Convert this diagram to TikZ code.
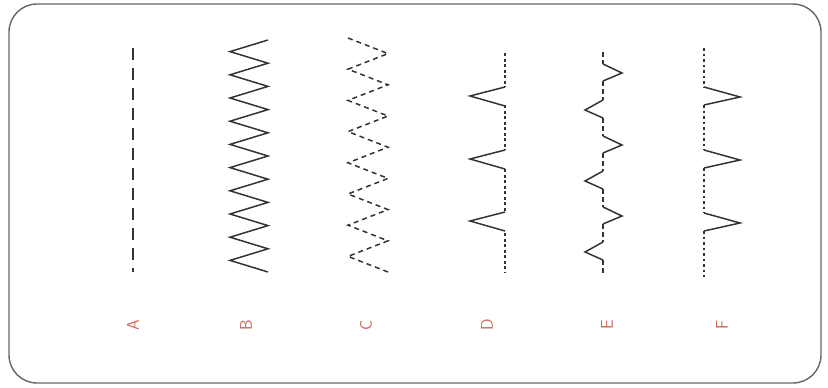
\documentclass[tikz,border=0pt]{standalone}
\usepackage{xcolor}
\usepackage{tikz}
\usetikzlibrary{positioning}
\definecolor{lblred}{RGB}{205,105,90}

\begin{document}
\begin{tikzpicture}[
      x=1pt, y=-1pt,
      font=\fontsize{17}{19}\selectfont\sffamily,
      frame/.style={draw=gray!80!black, line width=1.4pt, rounded corners=28pt},
      stitch/.style={draw=black!80, line width=1.5pt, line join=miter},
      seam/.style={stitch, line width=1.4pt, dash pattern=on 3pt off 2.5pt},
      lbl/.style={text=lblred, rotate=90, inner sep=1pt}
    ]
      \useasboundingbox (0,0) rectangle (828,388);
      \draw[frame] (9,4) rectangle (821,383);
      % A: straight stitch
      \draw[stitch, dash pattern=on 12pt off 8pt] (133,48) -- (133,272);
      % B: zigzag
      \draw[stitch] (268,40) \foreach \i in {1,...,20}{ -- ({249+19*cos(180*\i)},{40+11.6*\i}) };
      % C: dashed zigzag
      \draw[stitch, dash pattern=on 5pt off 4pt] (348,38) \foreach \i in {1,...,15}{ -- ({368-20*cos(180*\i)},{38+15.6*\i}) };
      % D: blind stitch
      \draw[seam] (505,53) -- (505,87) (505,105) -- (505,150) (505,169) -- (505,212) (505,233) -- (505,273);
      \foreach \y in {87,150,212}
        \draw[stitch] (505,\y) -- (470,\y+9) -- (505,\y+19);
      % E: alternating stitch
      \draw[seam, dash pattern=on 5pt off 3pt] (603,52) -- (603,64) (603,81) -- (603,100) (603,118) -- (603,136)
        (603,153) -- (603,171) (603,189) -- (603,207) (603,224) -- (603,242) (603,260) -- (603,273);
      \foreach \y in {64,136,207}
        \draw[stitch] (603,\y) -- (622,\y+9) -- (603,\y+17);
      \foreach \y in {100,171,242}
        \draw[stitch] (603,\y) -- (585,\y+10) -- (603,\y+18);
      % F: blind stitch, other side
      \draw[seam, dash pattern=on 2.5pt off 3pt] (704,48) -- (704,87) (704,105) -- (704,150) (704,168) -- (704,213) (704,231) -- (704,277);
      \foreach \y in {87,150,213}
        \draw[stitch] (704,\y) -- (740,\y+10) -- (704,\y+18);
      % labels
      \node[lbl] (la) at (133,325) {A};
      \node[lbl] (lb) at (246,325) {B};
      \node[lbl] (lc) at (366,325) {C};
      \node[lbl] (ld) at (487,325) {D};
      \node[lbl] (le) at (607,325) {E};
      \node[lbl] (lf) at (722,325) {F};
    \end{tikzpicture}
\end{document}
